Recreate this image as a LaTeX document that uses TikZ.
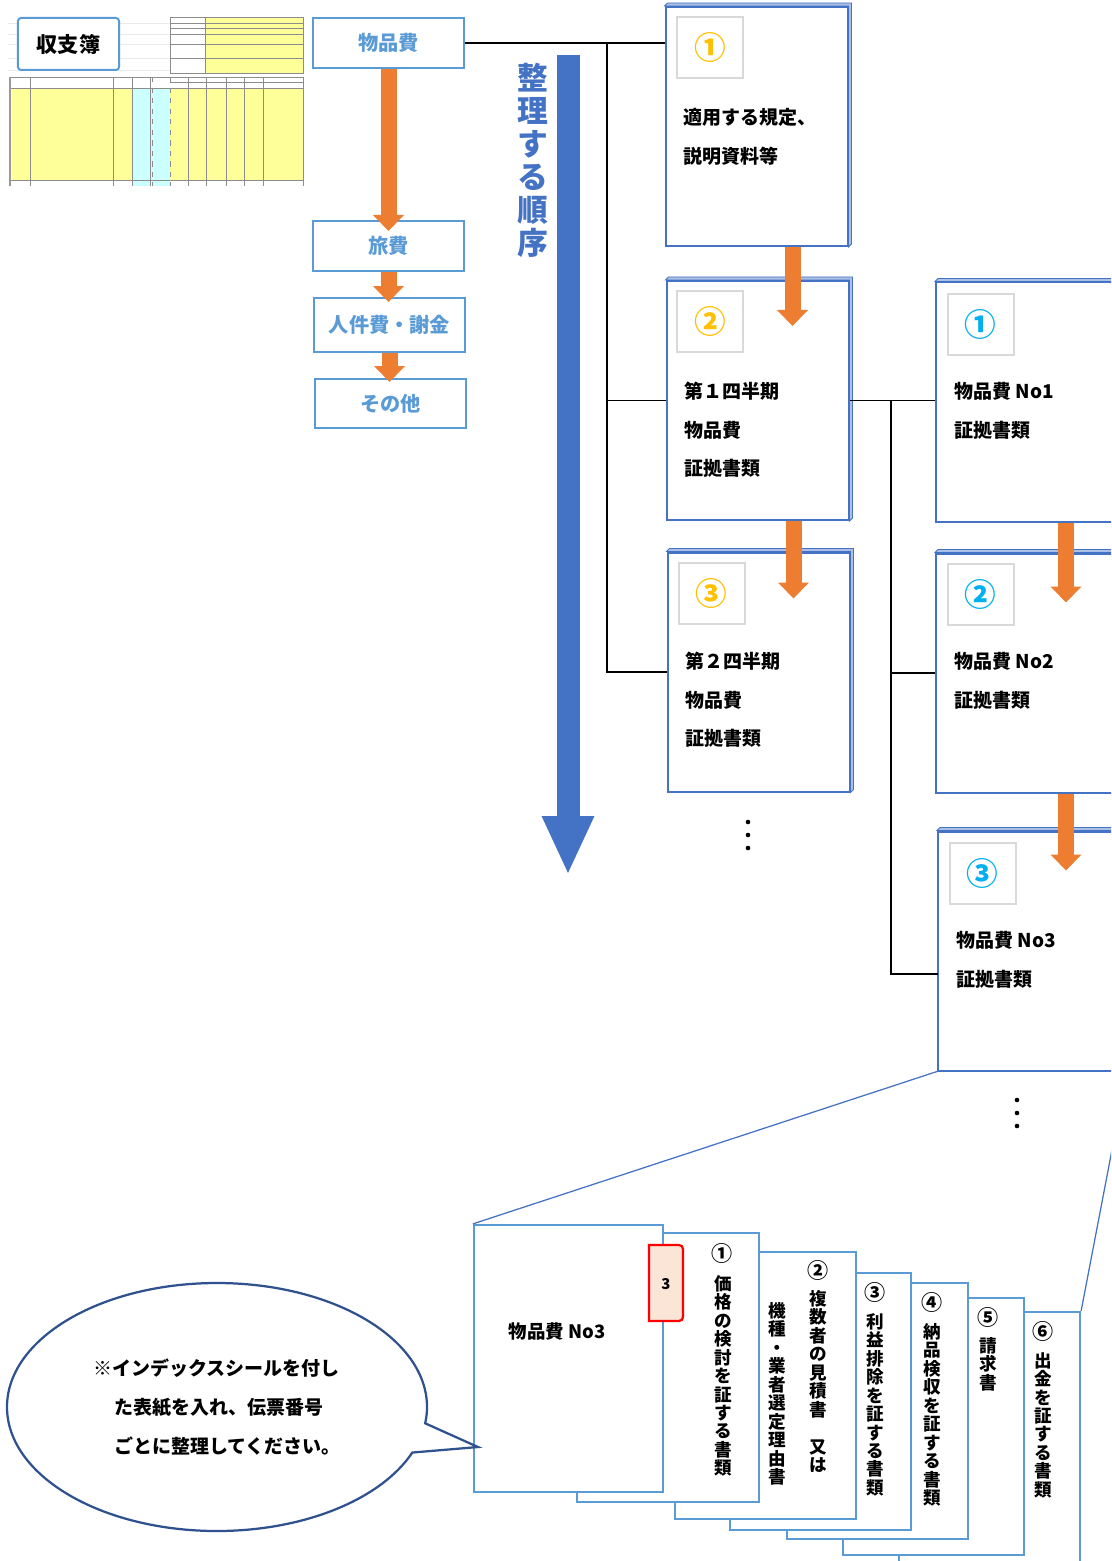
\documentclass[tikz,border=0pt]{standalone}
\usepackage{fontspec}
\setmainfont{Noto Sans CJK JP}
\usetikzlibrary{positioning}
\usetikzlibrary{arrows.meta}
\usetikzlibrary{calc}
\usetikzlibrary{shapes.callouts}
\definecolor{boxblue}{HTML}{4472C4}
\definecolor{lineblue}{HTML}{5B9BD5}
\definecolor{flowor}{HTML}{ED7D31}
\definecolor{numor}{HTML}{FFC000}
\definecolor{numcy}{HTML}{00B0F0}
\definecolor{sqgrey}{HTML}{D9D9D9}
\definecolor{tabfill}{HTML}{FBE5D6}
\definecolor{xlyel}{HTML}{FFFF99}
\definecolor{xlcyan}{HTML}{CCFFFF}
\definecolor{bubbleblue}{HTML}{2F528F}
\tikzset{
    catbox/.style = {rectangle, draw=lineblue, line width=0.4mm, fill=white, minimum width=30.2mm, minimum height=10mm, text=lineblue, font=\bfseries\fontsize{11.5}{14}\selectfont},
    ledger/.style = {rectangle, rounded corners=0.6mm, draw=lineblue, line width=0.4mm, fill=white, minimum width=20.2mm, minimum height=10.4mm, font=\bfseries\fontsize{12}{14}\selectfont},
    card/.style = {rectangle, draw=boxblue, line width=0.4mm, fill=white, minimum width=36.4mm, minimum height=47.8mm},
    bcard/.style = {card, minimum width=37.6mm},
    numsq/.style = {rectangle, draw=sqgrey, line width=0.4mm, fill=white, minimum width=13.2mm, minimum height=12.2mm, font=\bfseries\fontsize{18}{18}\selectfont},
    label/.style = {align=left, anchor=west, inner sep=0pt, font=\bfseries\fontsize{10.8}{22}\selectfont},
    sheet/.style = {rectangle, draw=lineblue, line width=0.45mm, fill=white, minimum width=36.2mm, minimum height=51.4mm},
    tate/.style = {align=center, anchor=north, inner sep=0pt, font=\bfseries\fontsize{10}{10.5}\selectfont},
    pnum/.style = {inner sep=0pt, font=\bfseries\fontsize{12}{12}\selectfont},
    flowarr/.style = {draw=flowor, line width=3.2mm, -{Triangle[width=6mm,length=3.2mm]}},
    orderarr/.style = {draw=boxblue, line width=4.6mm, -{Triangle[width=9.6mm,length=11.8mm]}},
    conn/.style = {draw=black, line width=0.3mm},
    proj/.style = {draw=boxblue, line width=0.25mm},
    cellline/.style = {draw=black!45, line width=0.12mm},
    bubble/.style = {ellipse callout, draw=bubbleblue, line width=0.45mm, fill=white, minimum width=84mm, minimum height=49.6mm, callout pointer arc=14, align=left, font=\bfseries\fontsize{10.8}{22}\selectfont}
}
% stack the characters of #1 one below the other
\newcommand\tate[1]{\tateA#1\relax}
\def\tateA#1{#1\tateB}
\def\tateB#1{\ifx#1\relax\else\\#1\expandafter\tateB\fi}
% thin top and right face of a card
\newcommand\cardedge[1]{\filldraw[fill=boxblue!45, draw=boxblue, line width=0.15mm] (#1.north west) -- ++(3,-3) -- ([shift={(3,-3)}]#1.north east) -- ([shift={(3,-3)}]#1.south east) -- (#1.south east) -- (#1.north east) -- cycle;}

\begin{document}
\begin{tikzpicture}[x=0.2mm,y=-0.2mm]
\useasboundingbox (0,0) rectangle (1111,1561);
\clip (0,0) rectangle (1111,1561);
%
% ledger sheet
\fill[white] (8,10) rectangle (304,186);
\foreach \y in {23,34,44,58,70} \draw[black!8, line width=0.1mm] (8,\y) -- (170,\y);
\fill[xlyel] (205,17) rectangle (303,73);
\draw[cellline] (170,17) rectangle (303,73);
\foreach \y in {23,28,34,44,58} \draw[cellline] (170,\y) -- (303,\y);
\draw[cellline] (205,17) -- (205,73);
\fill[xlyel] (12,88) rectangle (303,180);
\fill[xlcyan] (132,88) rectangle (150,186);
\fill[xlcyan] (152,88) rectangle (170,186);
\draw[cellline] (10,77) rectangle (303,88);
\draw[cellline] (170,82) -- (303,82);
\foreach \x in {30,113,132,150,188,206,226,244,263,303} \draw[cellline] (\x,77) -- (\x,186);
\foreach \x in {152,170} \draw[cellline, dashed] (\x,77) -- (\x,186);
\draw[cellline] (10,180) -- (303,180);
\draw[black!40, line width=0.5mm] (10,77) -- (10,186);
\node[ledger] (ledger) at (68.5,44) {収支簿};
%
% expense categories
\node[catbox] (buppin) at (388.5,43) {物品費};
\node[catbox] (ryohi) at (388.5,246) {旅費};
\node[catbox, minimum height=10.8mm] (jinken) at (389.5,325) {人件費・謝金};
\node[catbox, minimum height=9.8mm] (sonota) at (390.5,403.5) {その他};
\draw[flowarr, shorten >=-2.2mm] (buppin.south) -- (buppin.south |- ryohi.north);
\draw[flowarr, shorten >=-1mm] (ryohi.south) -- (ryohi.south |- jinken.north);
\draw[flowarr, shorten >=-0.8mm] (jinken.south) -- (jinken.south |- sonota.north);
%
% order of filing
\coordinate (ordtop) at (568,55);
\coordinate (ordend) at (568,875);
\draw[orderarr] (ordtop) -- (ordend);
\node[tate, text=boxblue, font=\bfseries\fontsize{17.5}{18.8}\selectfont] (ordtext) at (533,63) {\tate{整理する順序}};
%
% first level cards
\node[card] (a1) at (756.5,126.5) {};
\node[card] (a2) at (757.5,400.5) {};
\node[card] (a3) at (758.5,672) {};
\cardedge{a1}
\cardedge{a2}
\cardedge{a3}
\node[numsq, text=numor] (a1n) at (710,47.5) {①};
\node[numsq, text=numor] (a2n) at (710,321.5) {②};
\node[numsq, text=numor] (a3n) at (711.5,593) {③};
\node[label] (a1t) at (683,137) {適用する規定、\\説明資料等};
\node[label] (a2t) at (684,430) {第１四半期\\物品費\\証拠書類};
\node[label] (a3t) at (685,700) {第２四半期\\物品費\\証拠書類};
%
% second level cards
\node[bcard] (b1) at (1030,402) {};
\node[bcard] (b2) at (1030,673) {};
\node[bcard] (b3) at (1032,951) {};
\cardedge{b1}
\cardedge{b2}
\cardedge{b3}
\node[numsq, text=numcy] (b1n) at (980.5,324) {①};
\node[numsq, text=numcy] (b2n) at (980.5,594) {②};
\node[numsq, text=numcy] (b3n) at (982.5,873.5) {③};
\node[label] (b1t) at (954,411) {物品費 No1\\証拠書類};
\node[label] (b2t) at (954,681) {物品費 No2\\証拠書類};
\node[label] (b3t) at (956,960) {物品費 No3\\証拠書類};
%
% tree lines
\coordinate (trunk) at (607,43);
\coordinate (rtrunk) at (891,400.5);
\coordinate (b3in) at (938,974);
\draw[conn] (buppin.east) -- (a1.west |- buppin.east);
\draw[conn] (trunk) |- (a2.west);
\draw[conn] (trunk) |- (a3.west);
\draw[conn] (a2.east) -- (b1.west |- a2.east);
\draw[conn] (rtrunk) |- (b2.west);
\draw[conn] (rtrunk) |- (b3in);
%
% flow between cards
\coordinate (a1out) at ($(a1.south)+(36,0)$);
\coordinate (a2out) at ($(a2.south)+(36,0)$);
\coordinate (b1out) at ($(b1.south)+(36,0)$);
\coordinate (b2out) at ($(b2.south)+(36,0)$);
\draw[flowarr, shorten >=-9.2mm] (a1out) -- (a1out |- a2.north);
\draw[flowarr, shorten >=-9.4mm] (a2out) -- (a2out |- a3.north);
\draw[flowarr, shorten >=-10mm] (b1out) -- (b1out |- b2.north);
\draw[flowarr, shorten >=-8mm] (b2out) -- (b2out |- b3.north);
\foreach \y in {822,835,848} \fill (748,\y) circle[radius=2.3];
\foreach \y in {1100,1113,1126} \fill (1017,\y) circle[radius=2.3];
%
% documents of one voucher
\node[sheet, minimum height=51.4mm] (p6) at (989.5,1440.5) {};
\node[sheet, minimum height=51.4mm] (p5) at (933.5,1426.5) {};
\node[sheet, minimum height=51.2mm] (p4) at (877.5,1411) {};
\node[sheet, minimum height=51.4mm] (p3) at (820.5,1401.5) {};
\node[sheet, minimum height=53.4mm] (p2) at (765.5,1385.5) {};
\node[sheet, minimum width=36.4mm, minimum height=53.8mm] (p1) at (668,1367.5) {};
\node[sheet, minimum width=37.8mm, minimum height=53.4mm] (cover) at (568.5,1358.5) {};
\draw[proj] (b3.south west) -- (cover.north west);
\draw[proj] (b3.south east) -- (p6.north east);
\node[pnum] (p1n) at (722,1253) {①};
\node[pnum] (p2n) at (818,1270) {②};
\node[pnum] (p3n) at (875,1292) {③};
\node[pnum] (p4n) at (932,1302) {④};
\node[pnum] (p5n) at (988,1317) {⑤};
\node[pnum] (p6n) at (1043,1331) {⑥};
\node[tate] (p1t) at (723,1275) {\tate{価格の検討を証する書類}};
\node[tate] (p2t) at (818,1290) {\tate{複数者の見積書　又は}};
\node[tate] (p2s) at (777,1302) {\tate{機種・業者選定理由書}};
\node[tate] (p3t) at (875,1313) {\tate{利益排除を証する書類}};
\node[tate] (p4t) at (932,1323) {\tate{納品検収を証する書類}};
\node[tate] (p5t) at (988,1337) {\tate{請求書}};
\node[tate] (p6t) at (1043,1352) {\tate{出金を証する書類}};
\node[font=\bfseries\fontsize{10.5}{12}\selectfont] (covert) at (557,1332) {物品費 No3};
% index seal
\filldraw[fill=tabfill, draw=red, line width=0.45mm] (649,1321) -- (649,1245) -- (679,1245) arc[start angle=-90, end angle=0, radius=4] -- (683,1317) arc[start angle=0, end angle=90, radius=4] -- cycle;
\node[font=\bfseries\fontsize{8.5}{8.5}\selectfont] (tab) at (666,1284) {3};
%
% note
\node[bubble, callout absolute pointer={(478,1447)}] (note) at (217,1407) {※インデックスシールを付し\\\hspace*{1.1em}た表紙を入れ、伝票番号\\\hspace*{1.1em}ごとに整理してください。};

\end{tikzpicture}
\end{document}
